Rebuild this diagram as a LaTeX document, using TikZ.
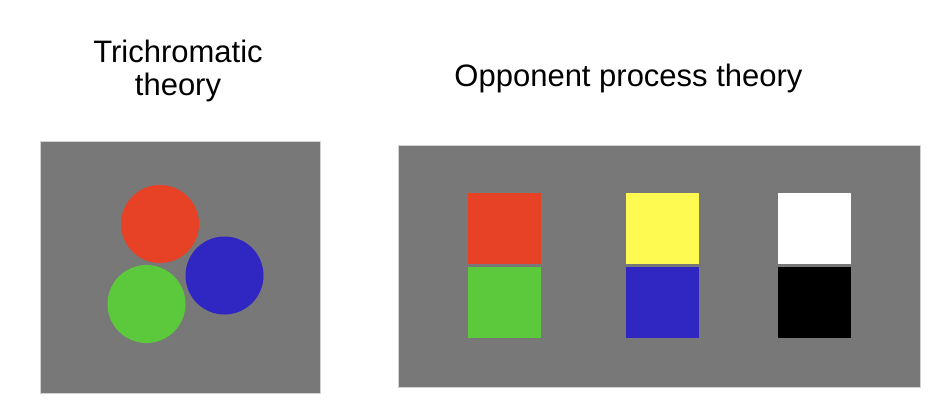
\documentclass[tikz,border=0pt]{standalone}
\usepackage{fontspec}
\setmainfont{Liberation Sans}
\definecolor{panelgray}{HTML}{787878}
\definecolor{cred}{HTML}{E84226}
\definecolor{cgreen}{HTML}{5CC93C}
\definecolor{cblue}{HTML}{3026C2}
\definecolor{cyellow}{HTML}{FFFA52}
\begin{document}
\begin{tikzpicture}[x=1pt,y=-1pt,
  panel/.style={rectangle, fill=panelgray, draw=gray!35, line width=0.6pt, inner sep=0pt},
  disc/.style={circle, inner sep=0pt, minimum size=78pt},
  swatch/.style={rectangle, inner sep=0pt, minimum width=73pt, minimum height=71pt},
  title/.style={anchor=base, inner sep=0pt, font=\fontsize{31}{33}\selectfont}]
\useasboundingbox (0,0) rectangle (952,402);
\fill[white] (0,0) rectangle (952,402);
% titles
\node[title] (t1) at (178,62) {Trichromatic};
\node[title] (t2) at (178,95) {theory};
\node[title] (t3) at (628.5,86) {Opponent process theory};
% panels
\node[panel, minimum width=280pt, minimum height=252pt] (left) at (180,267) {};
\node[panel, minimum width=522pt, minimum height=242pt] (right) at (659,266) {};
% circles
\node[disc, fill=cred] (red) at (160,224) {};
\node[disc, fill=cblue] (blue) at (224.5,275.5) {};
\node[disc, fill=cgreen] (green) at (146.5,304) {};
% squares
\node[swatch, fill=cred] (sr) at (504.5,228.5) {};
\node[swatch, fill=cgreen] (sg) at (504.5,302) {};
\node[swatch, fill=cyellow] (sy) at (662.5,228.5) {};
\node[swatch, fill=cblue] (sb) at (662.5,302) {};
\node[swatch, fill=white] (sw) at (814.5,228.5) {};
\node[swatch, fill=black] (sk) at (814.5,302) {};
\end{tikzpicture}
\end{document}
